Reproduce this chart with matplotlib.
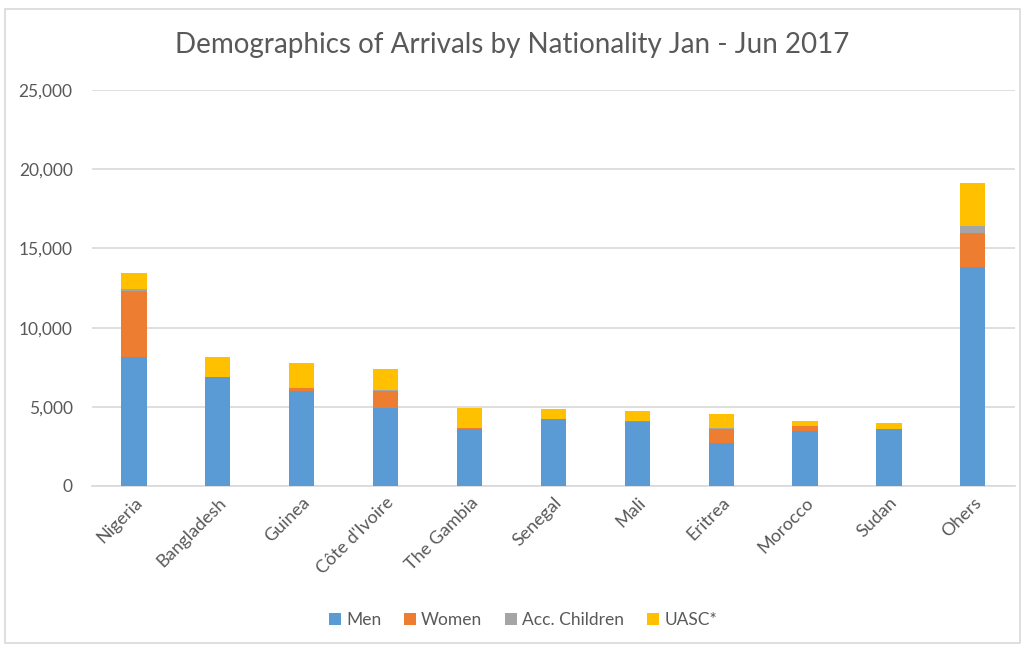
import numpy as np
import matplotlib.pyplot as plt
from matplotlib.patches import Rectangle

# Data
countries = ['Nigeria', 'Bangladesh', 'Guinea', "Côte d'Ivoire", 'The Gambia', 'Senegal',
             'Mali', 'Eritrea', 'Morocco', 'Sudan', 'Ohers']
men = [8160, 6900, 6000, 4950, 3620, 4210, 4020, 2730, 3470, 3580, 13800]
women = [4170, 0, 200, 1050, 60, 0, 60, 850, 320, 30, 2200]
children = [100, 0, 0, 60, 0, 0, 0, 100, 0, 0, 430]
uasc = [1000, 1260, 1540, 1300, 1260, 650, 650, 840, 310, 360, 2720]

series = [('Men', men, '#5B9BD5'),
          ('Women', women, '#ED7D31'),
          ('Acc. Children', children, '#A5A5A5'),
          ('UASC*', uasc, '#FFC000')]

plt.rcParams['font.family'] = ['Lato', 'DejaVu Sans']
text_color = '#595959'

fig = plt.figure(figsize=(10.25, 6.48), dpi=100)
ax = fig.add_axes([0.0898, 0.25, 0.9002, 0.611])

# outer chart border
fig.patches.append(Rectangle((0.005, 0.008), 0.99, 0.978, transform=fig.transFigure,
                             fill=False, edgecolor='#d9d9d9', linewidth=1.2))

x = np.arange(len(countries))
bottom = np.zeros(len(countries))
for name, vals, color in series:
    vals = np.array(vals, dtype=float)
    ax.bar(x, vals, width=0.3, bottom=bottom, color=color, label=name, zorder=3)
    bottom += vals

ax.set_xlim(-0.5, len(countries) - 0.5)
ax.set_ylim(0, 25000)
ax.set_yticks(np.arange(0, 25001, 5000))
ax.yaxis.set_major_formatter(plt.FuncFormatter(lambda v, p: f'{int(v):,}'))
ax.grid(axis='y', color='#d9d9d9', linewidth=1.2, zorder=0)
for s in ['top', 'right', 'left']:
    ax.spines[s].set_visible(False)
ax.spines['bottom'].set_color('#d9d9d9')
ax.spines['bottom'].set_linewidth(1.2)
ax.tick_params(axis='both', length=0, colors=text_color)
ax.tick_params(axis='y', pad=14, labelsize=12.5)
ax.tick_params(axis='x', pad=6, labelsize=13)
ax.set_xticks(x)
ax.set_xticklabels(countries, rotation=45, ha='right', rotation_mode='anchor')

fig.text(0.5, 0.93, 'Demographics of Arrivals by Nationality Jan - Jun 2017',
         ha='center', va='center', fontsize=20, color=text_color)

fig.legend(loc='center', bbox_to_anchor=(0.51, 0.043), ncol=4, frameon=False,
           fontsize=12.5, labelcolor=text_color, handlelength=0.7, handleheight=0.7,
           handletextpad=0.3, columnspacing=1.3)

fig.savefig('out.png', dpi=100)
